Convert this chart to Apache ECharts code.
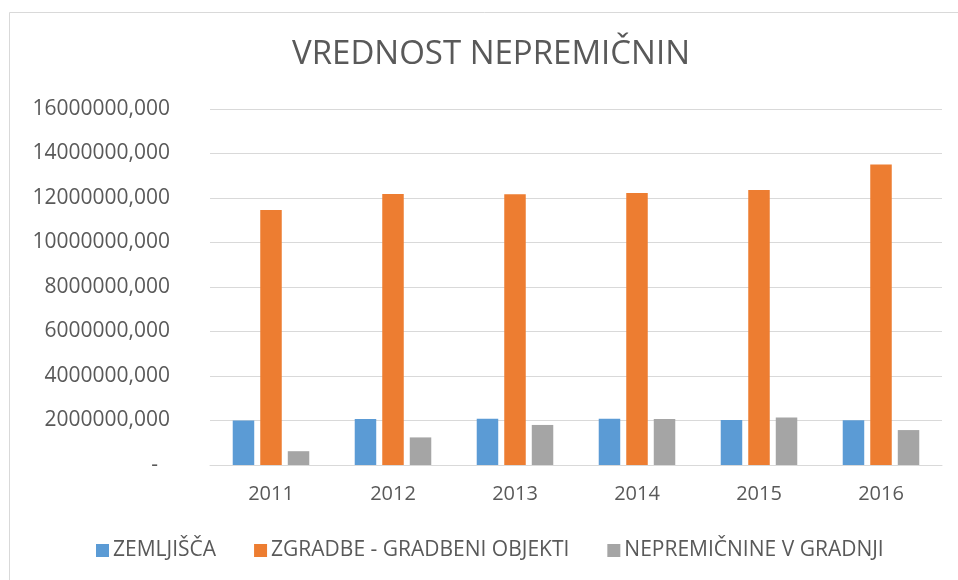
<!DOCTYPE html>
<html>
<head>
<meta charset="utf-8">
<script src="https://cdn.jsdelivr.net/npm/echarts@6/dist/echarts.min.js"></script>
<style>
  html, body { margin: 0; padding: 0; background: #ffffff; }
  #chart { width: 958px; height: 580px; }
</style>
</head>
<body>
<div id="chart"></div>
<script>
// vrednosti odčitane s slike (EUR)
const years = ['2011', '2012', '2013', '2014', '2015', '2016'];
const zemljisca = [2000000, 2070000, 2080000, 2080000, 2020000, 2010000];
const zgradbe = [11460000, 12180000, 12170000, 12220000, 12360000, 13510000];
const vGradnji = [620000, 1240000, 1800000, 2070000, 2140000, 1570000];
const seriesNames = ['ZEMLJIŠČA', 'ZGRADBE - GRADBENI OBJEKTI', 'NEPREMIČNINE V GRADNJI'];

const TEXT = '#595959';
const GRID_LINE = '#d9d9d9';
const FONT = '"Open Sans", sans-serif';

const chart = echarts.init(document.getElementById('chart'));

const barStyle = (color) => ({
  type: 'bar',
  barWidth: 21.5,
  barGap: '28%',
  itemStyle: { color: color },
  emphasis: { disabled: true }
});

chart.setOption({
  backgroundColor: '#ffffff',
  animation: false,
  graphic: [
    {
      type: 'rect',
      left: 7,
      top: 10,
      shape: { width: 980, height: 600 },
      style: { fill: 'none', stroke: GRID_LINE, lineWidth: 1 },
      silent: true
    }
  ],
  title: {
    text: 'VREDNOST NEPREMIČNIN',
    left: 292,
    top: 38,
    padding: 0,
    textStyle: { color: TEXT, fontFamily: FONT, fontSize: 33, fontWeight: 'normal' }
  },
  legend: {
    bottom: 14,
    left: 91,
    itemWidth: 13,
    itemHeight: 13,
    itemGap: 38,
    icon: 'rect',
    textStyle: { color: TEXT, fontFamily: FONT, fontSize: 21, padding: [0, 0, 0, -1] },
    data: seriesNames
  },
  grid: { left: 210, right: 16, top: 109, bottom: 115, containLabel: false },
  xAxis: {
    type: 'category',
    data: years,
    axisLine: { lineStyle: { color: GRID_LINE, width: 1 } },
    axisTick: { show: false },
    axisLabel: { color: TEXT, fontFamily: FONT, fontSize: 20, margin: 19 }
  },
  yAxis: {
    type: 'value',
    min: 0,
    max: 16000000,
    interval: 2000000,
    axisLine: { show: false },
    axisTick: { show: false },
    splitLine: { lineStyle: { color: GRID_LINE, width: 1 } },
    axisLabel: {
      color: TEXT,
      fontFamily: FONT,
      fontSize: 21,
      margin: 40,
      formatter: (v) => (v === 0 ? '{z|-}' : v + ',000'),
      rich: { z: { color: TEXT, fontFamily: FONT, fontSize: 21, padding: [0, 12, 0, 0] } }
    }
  },
  series: [
    Object.assign(barStyle('#5b9bd5'), { name: seriesNames[0], data: zemljisca }),
    Object.assign(barStyle('#ed7d31'), { name: seriesNames[1], data: zgradbe }),
    Object.assign(barStyle('#a5a5a5'), { name: seriesNames[2], data: vGradnji })
  ]
});
</script>
</body>
</html>
